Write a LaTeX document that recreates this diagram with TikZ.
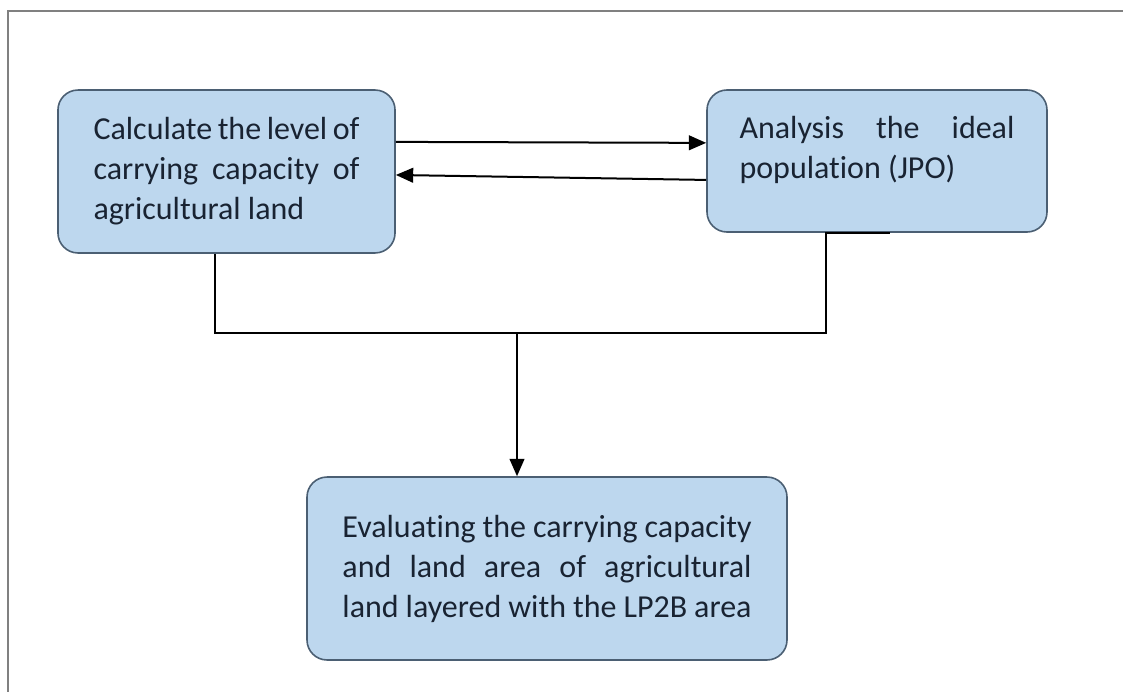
\documentclass[tikz,border=0pt]{standalone}
\usepackage{fontspec}
\setmainfont[Ligatures=NoCommon]{Carlito}
\usetikzlibrary{arrows.meta, positioning}
\definecolor{boxfill}{RGB}{189,215,238}
\definecolor{boxline}{RGB}{75,95,115}
\definecolor{boxtext}{RGB}{25,35,50}
\definecolor{framegray}{RGB}{128,128,128}
\hyphenpenalty=10000
\exhyphenpenalty=10000

\begin{document}
\begin{tikzpicture}[x=0.375pt, y=-0.375pt,
        stepbox/.style={rectangle, rounded corners=7.5pt, draw=boxline, line width=0.6pt,
            fill=boxfill, text=boxtext, inner sep=0pt, align=justify,
            font=\fontsize{12}{15}\selectfont},
        line/.style={draw=black, line width=0.75pt},
        arr/.style={line, -{Triangle[length=6.5pt, width=5.5pt]}},
        frame/.style={draw=framegray, line width=0.8pt}
    ]
        \useasboundingbox (0,0) rectangle (1123,692);

        % Frame
        \draw[frame] (1123,11) -- (8,11) -- (8,692);

        % Boxes
        \node[stepbox, minimum width=126.4pt, minimum height=61.1pt, text width=99.75pt] (calc) at (226.5,171.5)
            {Calculate the level of\linebreak carrying capacity of\linebreak agricultural land};
        \node[stepbox, minimum width=127.5pt, minimum height=53.25pt, text width=103.1pt] (jpo) at (877,161)
            {Analysis the ideal\linebreak population (JPO)\par\vspace{8pt}};
        \node[stepbox, minimum width=180pt, minimum height=68.6pt, text width=153.4pt] (eval) at (547,568.5)
            {Evaluating the carrying capacity\linebreak and land area of agricultural\linebreak land layered with the LP2B area};

        % Arrows between the top boxes
        \draw[arr] ([yshift=11.1pt]calc.east) -- ([yshift=6.8pt]jpo.west);
        \draw[arr] ([yshift=-7.1pt]jpo.west) -- ([yshift=-1.3pt]calc.east);

        % Joining lines
        \coordinate (bus) at (517,333);
        \draw[line] ([xshift=-4.3pt]calc.south) |- (bus) -| ([xshift=-19.1pt]jpo.south) -- ([xshift=4.9pt]jpo.south);
        \draw[arr] (bus) -- (bus |- eval.north);
    \end{tikzpicture}
\end{document}
